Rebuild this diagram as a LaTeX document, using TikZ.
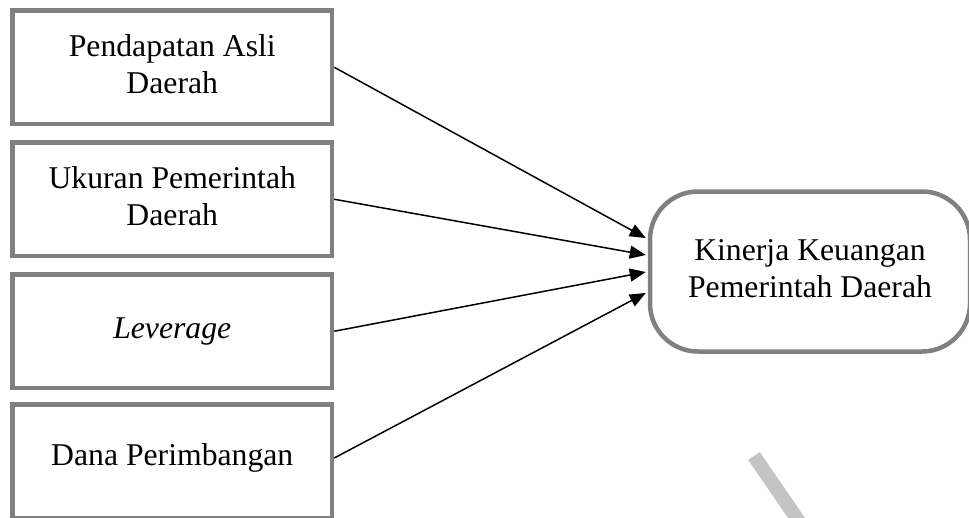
\documentclass[tikz,border=0pt]{standalone}
\usepackage{fontspec}
\setmainfont{Liberation Serif}
\usetikzlibrary{calc,arrows.meta}
\definecolor{boxgray}{HTML}{808080}
\definecolor{wmgray}{HTML}{C4C4C4}
\begin{document}
\begin{tikzpicture}[x=1pt,y=-1pt,
  txt/.style={font=\fontsize{31.7}{38}\selectfont, align=center, inner sep=0pt},
  varbox/.style={txt, draw=boxgray, line width=4.5pt, minimum width=319.5pt, minimum height=113.5pt},
  outbox/.style={txt, draw=boxgray, line width=4.5pt, rounded corners=48pt, minimum width=320pt, minimum height=160pt},
  link/.style={line width=1.5pt, -{Triangle[length=16pt,width=13pt]}}]
\clip (0,0) rectangle (969,517);
\fill[white] (0,0) rectangle (969,517);
% watermark fragment
\draw[wmgray, line width=14pt] (754,456) -- (802,526);
\node[varbox] (b1) at (172.25,67.25) {\raisebox{5pt}{\begin{tabular}{@{}c@{}}Pendapatan Asli\\[-1pt] Daerah\end{tabular}}};
\node[varbox] (b2) at (172.25,199.25) {\raisebox{5pt}{\begin{tabular}{@{}c@{}}Ukuran Pemerintah\\[-1pt] Daerah\end{tabular}}};
\node[varbox] (b3) at (172.25,331.25) {\raisebox{3pt}{\textit{Leverage}}};
\node[varbox] (b4) at (172.25,461) {\raisebox{14pt}{Dana Perimbangan}};
\node[outbox] (k) at (810,271.5) {\raisebox{9pt}{\begin{tabular}{@{}c@{}}Kinerja Keuangan\\[-1pt] Pemerintah Daerah\end{tabular}}};
\draw[link] (b1.east) -- ($(k.west)+(-2,-33.5)$);
\draw[link] (b2.east) -- ($(k.west)+(-2,-16.5)$);
\draw[link] (b3.east) -- ($(k.west)+(-2,0.5)$);
\draw[link] ($(b4.east)+(0,-3)$) -- ($(k.west)+(-2,21.5)$);
\end{tikzpicture}
\end{document}
